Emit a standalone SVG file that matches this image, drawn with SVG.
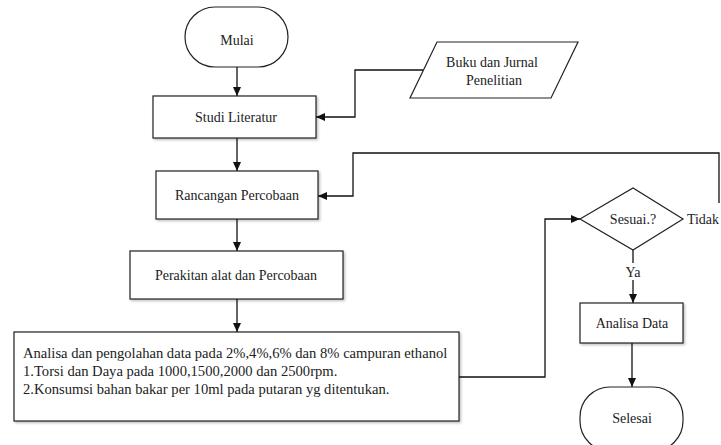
<svg xmlns="http://www.w3.org/2000/svg" width="721" height="445" viewBox="0 0 721 445" font-family="'Liberation Serif', 'DejaVu Serif', serif" font-size="14">
<style>
.s{fill:#fff;stroke:#222;stroke-width:1.2}
.c{fill:none;stroke:#111;stroke-width:1.3}
text{fill:#222}
.m{text-anchor:middle;dominant-baseline:central}
.b{font-size:14.6px}
</style>
<defs>
<marker id="a" markerWidth="10" markerHeight="10" refX="9" refY="5" orient="auto" markerUnits="userSpaceOnUse">
<path d="M0,1 L9,5 L0,9 Z" fill="#111"/>
</marker>
<filter id="sh" x="-5%" y="-5%" width="115%" height="125%">
<feDropShadow dx="1.5" dy="1.5" stdDeviation="0.8" flood-color="#000" flood-opacity="0.25"/>
</filter>
</defs>
<g id="connectors">
<path class="c" d="M237,67 V96" marker-end="url(#a)"/>
<path class="c" d="M423,70 H355 V117 H316" marker-end="url(#a)"/>
<path class="c" d="M237,138 V171" marker-end="url(#a)"/>
<path class="c" d="M719,203 V153 H353 V196 H318" marker-end="url(#a)"/>
<path class="c" d="M237,219 V251" marker-end="url(#a)"/>
<path class="c" d="M237,299 V332" marker-end="url(#a)"/>
<path class="c" d="M459,377 H545 V219 H580" marker-end="url(#a)"/>
<path class="c" d="M633,250 V303" marker-end="url(#a)"/>
<path class="c" d="M632,343 V387" marker-end="url(#a)"/>
</g>
<g id="mulai"><rect class="s" x="185" y="7" width="103" height="60" rx="30"/><text class="m" x="237" y="40">Mulai</text></g>
<g id="buku"><polygon class="s" points="437,42 578,42 551,98 410,98"/><text class="m" x="492" y="62">Buku dan Jurnal</text><text class="m" x="494" y="80">Penelitian</text></g>
<g id="studi"><rect class="s" x="153" y="96" width="163" height="42" filter="url(#sh)"/><text class="m" x="236" y="117">Studi Literatur</text></g>
<g id="rancangan"><rect class="s" x="156" y="171" width="162" height="48" filter="url(#sh)"/><text class="m" x="237" y="195">Rancangan Percobaan</text></g>
<g id="perakitan"><rect class="s" x="130" y="251" width="213" height="48" filter="url(#sh)"/><text class="m" x="236" y="275">Perakitan alat dan Percobaan</text></g>
<g id="analisa"><rect class="s" x="14" y="332" width="445" height="89" filter="url(#sh)"/>
<text class="b" x="23" y="358">Analisa dan pengolahan data pada 2%,4%,6% dan 8% campuran ethanol</text>
<text class="b" x="23" y="376">1.Torsi dan Daya pada 1000,1500,2000 dan 2500rpm.</text>
<text class="b" x="23" y="394">2.Konsumsi bahan bakar per 10ml pada putaran yg ditentukan.</text></g>
<g id="sesuai"><polygon class="s" points="580,219 633,188 683,219 633,250"/><text class="m" x="633" y="219">Sesuai.?</text></g>
<g id="tidak"><text class="m" x="703" y="219">Tidak</text></g>
<g id="ya"><rect x="622" y="263" width="22" height="17" fill="#fff"/><text class="m" x="633" y="272">Ya</text></g>
<g id="analisadata"><rect class="s" x="580" y="303" width="103" height="40" filter="url(#sh)"/><text class="m" x="632" y="323">Analisa Data</text></g>
<g id="selesai"><rect class="s" x="580" y="387" width="103" height="64" rx="30"/><text class="m" x="632" y="418">Selesai</text></g>
</svg>
